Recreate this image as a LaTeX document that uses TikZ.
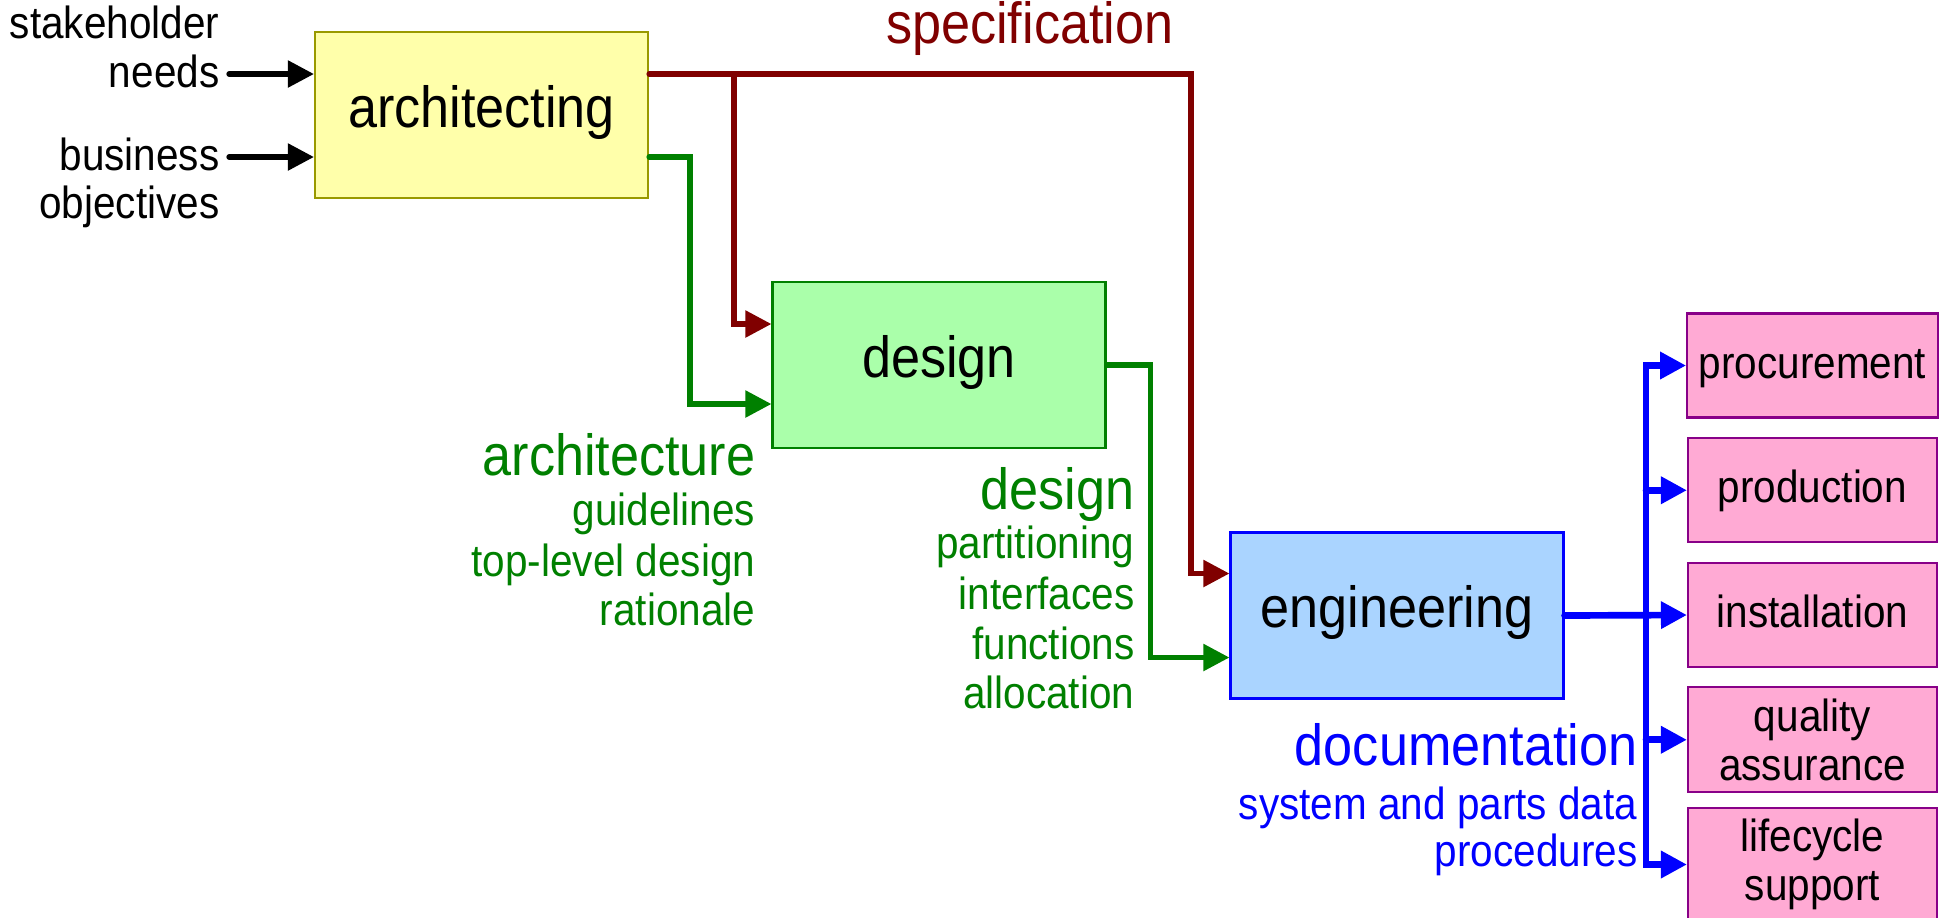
\documentclass[tikz,border=0pt]{standalone}
\usepackage{fontspec}
\setmainfont[FakeStretch=0.9]{Liberation Sans}
\usetikzlibrary{positioning,calc}
\usetikzlibrary{arrows.meta}

\definecolor{specred}{RGB}{128,0,0}
\definecolor{archgreen}{RGB}{0,128,0}
\definecolor{docblue}{RGB}{0,0,255}
\definecolor{archfill}{RGB}{255,255,170}
\definecolor{archdraw}{RGB}{153,153,0}
\definecolor{desfill}{RGB}{170,255,170}
\definecolor{engfill}{RGB}{170,212,255}
\definecolor{taskfill}{RGB}{255,170,212}
\definecolor{taskdraw}{RGB}{136,0,136}

\begin{document}
\begin{tikzpicture}[>={Triangle[length=2.6mm, width=2.6mm]}, line cap=round,
    big/.style = {font=\fontsize{16.5}{19}\selectfont},
    small/.style = {font=\fontsize{12.8}{13.8}\selectfont},
    lbl/.style = {small, inner sep=0pt, anchor=east, text height=0.9em, text depth=0.13em},
    head/.style = {lbl, big, text height=0.75em, text depth=0.2em},
    stage/.style = {draw, line width=0.6pt, minimum width=3.33cm, minimum height=1.66cm, big, text height=0.8em, text depth=0.11em},
    task/.style = {draw=taskdraw, fill=taskfill, line width=0.6pt, minimum width=2.49cm, minimum height=1.04cm, small, align=center},
    oneline/.style = {text height=0.8em, text depth=0.08em},
    twoline/.style = {},
    flow/.style = {line width=1.5pt, ->}]
    \useasboundingbox (0, 0) rectangle (19.39, -9.17);

    % processes
    \node (arch) [stage, draw=archdraw, fill=archfill] at (4.815, -1.15) {architecting};
    \node (design) [stage, draw=archgreen, fill=desfill] at (9.39, -3.65) {design};
    \node (eng) [stage, draw=docblue, fill=engfill] at (13.97, -6.155) {engineering};

    \foreach \name/\txt/\kind [count=\i from 0] in {proc/procurement/oneline, prod/production/oneline, inst/installation/oneline, qual/{quality\\assurance}/twoline, life/{lifecycle\\support}/twoline}{
        \node (\name) [task, \kind] at (18.125, {-3.655 - 1.2475*\i}) {\txt};
    }

    % inputs
    \node (stake) [lbl] at (2.20, -0.25) {stakeholder};
    \node (needs) [lbl] at (2.20, -0.74) {needs};
    \node (business) [lbl] at (2.20, -1.57) {business};
    \node (objectives) [lbl] at (2.20, -2.05) {objectives};

    \draw [flow] ([xshift=0.9mm]needs.east) -- (needs.east -| arch.west);
    \draw [flow] ([xshift=0.9mm]business.east) -- (business.east -| arch.west);

    % specification
    \node (spec) [head, specred] at (11.74, -0.335) {specification};
    \draw [flow, specred] ([yshift=4.1mm]arch.east) -- ++(5.42, 0) |- ([yshift=4.2mm]eng.west);
    \coordinate (split) at ($([yshift=4.1mm]arch.east) + (0.85, 0)$);
    \draw [flow, specred] (split) |- ([yshift=4.1mm]design.west);

    % architecture
    \draw [flow, archgreen] ([yshift=-4.2mm]arch.east) -- ++(0.41, 0) |- ([yshift=-3.9mm]design.west);
    \node (archhead) [head, archgreen] at (7.56, -4.655) {architecture};
    \node (guide) [lbl, archgreen] at (7.56, -5.12) {guidelines};
    \node (toplevel) [lbl, archgreen] at (7.56, -5.63) {top-level design};
    \node (ratio) [lbl, archgreen] at (7.56, -6.12) {rationale};

    % design
    \draw [flow, archgreen] (design.east) -- ++(0.44, 0) |- ([yshift=-4.2mm]eng.west);
    \node (deshead) [head, archgreen] at (11.35, -4.995) {design};
    \node (part) [lbl, archgreen] at (11.35, -5.45) {partitioning};
    \node (inter) [lbl, archgreen] at (11.35, -5.96) {interfaces};
    \node (func) [lbl, archgreen] at (11.35, -6.46) {functions};
    \node (alloc) [lbl, archgreen] at (11.35, -6.95) {allocation};

    % documentation
    \coordinate (bus) at (16.46, -6.15);
    \draw [flow, docblue, line width=1.9pt] (eng.east) -- (inst.west);
    \draw [flow, docblue, line width=1.9pt] (bus |- inst.west) |- (proc.west);
    \draw [flow, docblue, line width=1.9pt] (bus |- inst.west) |- (life.west);
    \draw [flow, docblue, line width=1.9pt] (bus |- prod.west) -- (prod.west);
    \draw [flow, docblue, line width=1.9pt] (bus |- qual.west) -- (qual.west);
    \node (dochead) [head, docblue] at (16.38, -7.555) {documentation};
    \node (sysdata) [lbl, docblue] at (16.38, -8.06) {system and parts data};
    \node (proced) [lbl, docblue] at (16.38, -8.53) {procedures};
\end{tikzpicture}
\end{document}
